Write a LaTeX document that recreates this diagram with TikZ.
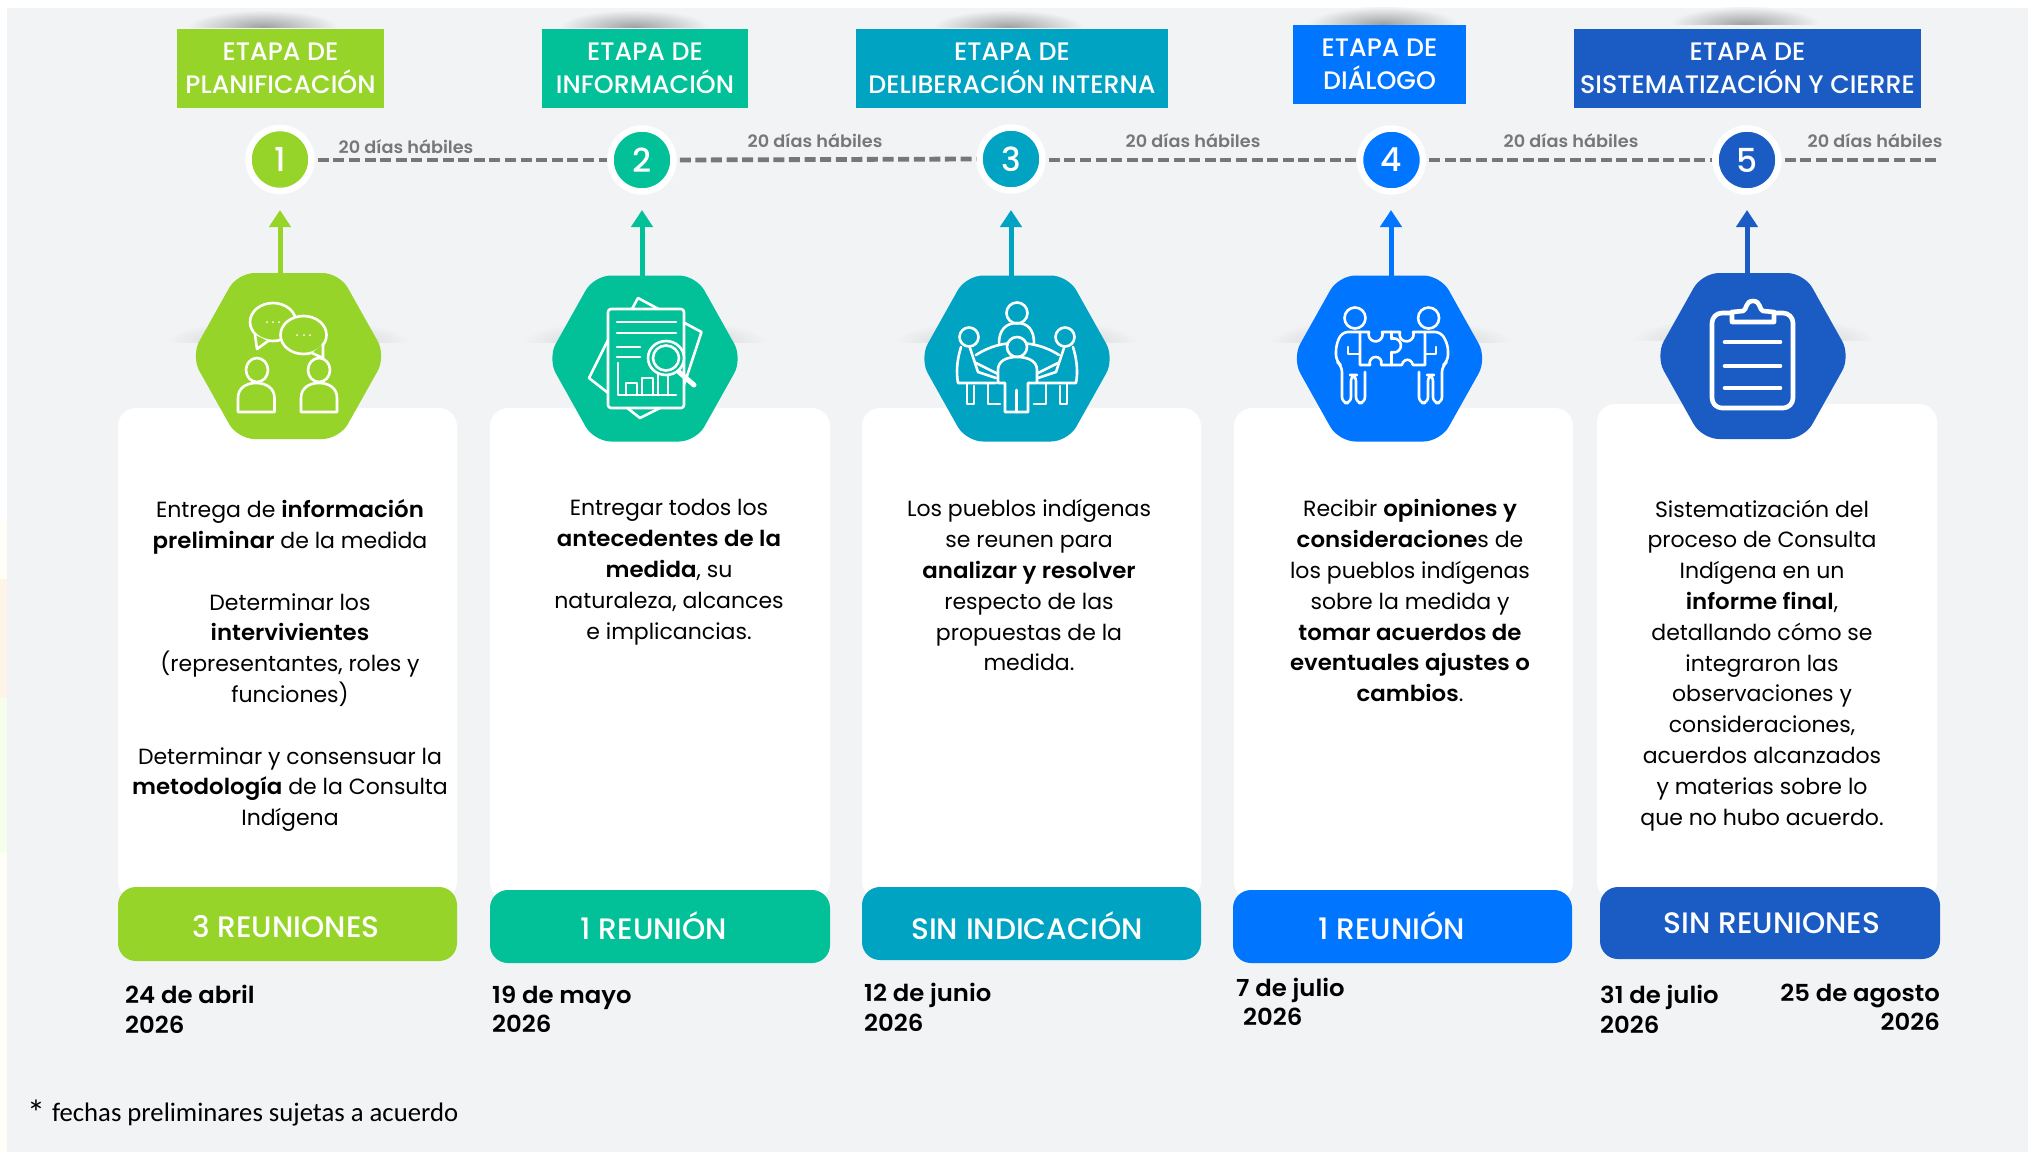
\documentclass[tikz,border=0pt]{standalone}
\usepackage{fontspec}
\setmainfont{Poppins}[BoldFont={Poppins SemiBold},BoldFeatures={FakeStretch=1.04}]
\newfontfamily\pmed{Poppins Medium}
\newfontfamily\footfont{Carlito}
\usetikzlibrary{arrows.meta,calc}
\definecolor{bgc}{HTML}{F1F3F5}
\definecolor{ca}{HTML}{97D42A}
\definecolor{cb}{HTML}{02C097}
\definecolor{cc}{HTML}{01A3C3}
\definecolor{cd}{HTML}{0075FF}
\definecolor{ce}{HTML}{1A5CC4}
\definecolor{dashc}{HTML}{777777}
\tikzset{
  header/.style={fill=#1,text=white,align=center,inner sep=0pt,font=\pmed\fontsize{25.3}{33}\selectfont},
  ring/.style={circle,fill=#1,draw=white,line width=6.5pt,minimum size=63pt,inner sep=0pt,text=white,font=\pmed\fontsize{33}{33}\selectfont},
  daysl/.style={text=dashc,font=\fontsize{17}{20}\selectfont\bfseries,inner sep=0pt},
  dashl/.style={draw=dashc,line width=4.8pt,dash pattern=on 11pt off 4.6pt},
  upar/.style={draw=#1,line width=5pt,-{Triangle[length=17pt,width=21pt]}},
  hexa/.style={fill=#1,rounded corners=17pt},
  card/.style={fill=white,rounded corners=18pt},
  pill/.style={fill=#1,rounded corners=18pt},
  plabel/.style={text=white,inner sep=0pt,font=\pmed\fontsize{29.6}{30}\selectfont},
  body/.style={align=center,anchor=north,inner sep=0pt,text=black,font=\fontsize{22}{30.8}\selectfont},
  datel/.style={align=left,inner sep=0pt,text=black,font=\fontsize{23.4}{29.5}\selectfont\bfseries},
  ic/.style={draw=white,line width=2.6pt,line join=round,line cap=round},
  ict/.style={draw=white,line width=4.6pt,line join=round,line cap=round},
}
\newcommand{\hexshape}[3]{\path[hexa=#1] (#2-97.5,#3) -- (#2-51,#3-83) -- (#2+51,#3-83) -- (#2+97.5,#3) -- (#2+51,#3+83) -- (#2-51,#3+83) -- cycle;}
\newcommand{\topshadow}[2]{\begin{scope}\clip (#1-90,0) rectangle (#1+90,#2);\shade[inner color=black!34!bgc,outer color=bgc] (#1,#2) ellipse (75 and 17);\end{scope}}
\newcommand{\sideshadow}[2]{\begin{scope}\clip (#1-130,#2-40) rectangle (#1+130,#2);\shade[inner color=black!22!bgc,outer color=bgc] (#1,#2) ellipse (122 and 24);\end{scope}}
\begin{document}
\begin{tikzpicture}[x=1pt,y=-1pt]
\useasboundingbox (0,0) rectangle (2028,1152);
\fill[white] (0,0) rectangle (2028,1152);
\fill[bgc] (7,8) rectangle (2028,1152);
% tints on the left edge
\fill[yellow!3!white] (0,519) rectangle (7,579);
\fill[orange!9!white] (0,579) rectangle (7,698);
\fill[green!50!yellow!8!white] (0,698) rectangle (7,852);
\fill[yellow!3!white] (0,852) rectangle (7,1152);
% shadows
\topshadow{263}{27}\topshadow{634}{27}\topshadow{1008}{27}\topshadow{1383}{24}\topshadow{1745}{24}
\sideshadow{288}{342}\sideshadow{645}{342}\sideshadow{1017}{342}\sideshadow{1390}{342}\sideshadow{1753}{340}
% cards
\path[card] (118,408) rectangle (457,900);
\path[card] (490,408) rectangle (830,900);
\path[card] (862,408) rectangle (1201,900);
\path[card] (1234,408) rectangle (1573,900);
\path[card] (1597,404) rectangle (1937,900);
% headers
\node[header=ca,minimum width=207pt,minimum height=79pt] (h1) at (280.5,68) {ETAPA DE\\PLANIFICACIÓN};
\node[header=cb,minimum width=206pt,minimum height=79pt] (h2) at (645,68) {ETAPA DE\\INFORMACIÓN};
\node[header=cc,minimum width=312pt,minimum height=79pt] (h3) at (1012,68) {ETAPA DE\\DELIBERACIÓN INTERNA};
\node[header=cd,minimum width=173pt,minimum height=79pt] (h4) at (1379.5,64.5) {ETAPA DE\\DIÁLOGO};
\node[header=ce,minimum width=347pt,minimum height=79pt] (h5) at (1747.5,68) {ETAPA DE\\SISTEMATIZACIÓN Y CIERRE};
% number circles
\node[ring=ca] (c1) at (280,159.5) {1};
\node[ring=cb] (c2) at (642,160) {2};
\node[ring=cc] (c3) at (1011,159) {3};
\node[ring=cd] (c4) at (1391.5,160) {4};
\node[ring=ce] (c5) at (1747,160) {5};
\coordinate (end) at (1940,160);
% timeline
\draw[dashl] (c1.east) ++(3,0.5) -- (c2.west);
\draw[dashl] (c2.east) ++(3,0) -- (c3.west);
\draw[dashl] (c3.east) ++(3,1) -- (c4.west);
\draw[dashl] (c4.east) ++(3,0) -- (c5.west);
\draw[dashl] (c5.east) ++(3,0) -- (end);
\node[daysl] (d1) at (406,147) {20 días hábiles};
\node[daysl] (d2) at (815,140.5) {20 días hábiles};
\node[daysl] (d3) at (1193,140.5) {20 días hábiles};
\node[daysl] (d4) at (1571,140.5) {20 días hábiles};
\node[daysl] (d5) at (1875,140.5) {20 días hábiles};
% hexagons
\hexshape{ca}{288.5}{356}
\hexshape{cb}{645}{358.5}
\hexshape{cc}{1017}{358.5}
\hexshape{cd}{1389.5}{358.5}
\hexshape{ce}{1753}{356}
% arrows
\coordinate (t1) at (280,210);\coordinate (s1) at (280,274);
\coordinate (t2) at (642,210);\coordinate (s2) at (642,277);
\coordinate (t3) at (1011,210);\coordinate (s3) at (1011,277);
\coordinate (t4) at (1391,210);\coordinate (s4) at (1391,277);
\coordinate (t5) at (1747,210);\coordinate (s5) at (1747,274);
\draw[upar=ca] (s1) -- (t1);
\draw[upar=cb] (s2) -- (t2);
\draw[upar=cc] (s3) -- (t3);
\draw[upar=cd] (s4) -- (t4);
\draw[upar=ce] (s5) -- (t5);
% icon 1
\begin{scope}[ic]
\draw (273,322) ellipse (23 and 19);
\end{scope}
\fill[ca] (303.5,335) ellipse (23 and 19);
\begin{scope}[ic]
\draw (303.5,335) ellipse (23 and 19);
\draw[fill=ca] (255,335) -- (257,349) -- (268,341);
\draw[fill=ca] (312,353) -- (323,358) -- (323,344);
\fill[white] (267,322) circle (1) (273,322) circle (1) (279,322) circle (1);
\fill[white] (297,335) circle (1) (304,335) circle (1) (310,335) circle (1);
\draw (257,370) ellipse (11 and 12);
\draw (319,370) ellipse (11 and 12);
\draw (238,412) -- (238,398) .. controls (238,388) and (246,383) .. (256,383) .. controls (266,383) and (274.5,388) .. (274.5,398) -- (274.5,412) -- cycle;
\draw (301,412) -- (301,398) .. controls (301,388) and (309,383) .. (319,383) .. controls (329,383) and (337,388) .. (337,398) -- (337,412) -- cycle;
\end{scope}
% icon 2
\begin{scope}[ic]
\draw (632,309) -- (638,298) -- (701.5,332) -- (684,385);
\draw (608,340) -- (589,378) -- (640,418) -- (660,408);
\draw[rounded corners=3pt,fill=cb] (608,309) rectangle (684,408);
\draw (617,322) -- (676,322) (617,333) -- (676,333) (617,347) -- (640,347) (617,357) -- (640,357);
\draw (618,363) -- (618,395) -- (676,395);
\draw (626,395) -- (626,383) -- (637,383) -- (637,395) (642,395) -- (642,378) -- (653,378) -- (653,395) (658,395) -- (658,374) -- (668,374) -- (668,395);
\draw[fill=cb] (666,358) ellipse (18 and 17);
\draw (666,358) ellipse (13 and 12.5);
\draw[line width=5pt] (679,372) -- (694,385);
\end{scope}
% icon 3
\begin{scope}[ic]
\draw (1017,313) circle (10.5);
\draw (999,343) .. controls (999,330) and (1006,323) .. (1017,323) .. controls (1028,323) and (1034,330) .. (1034,343);
\draw (976,355) .. controls (990,346) and (1003,343) .. (1017,343) .. controls (1031,343) and (1045,346) .. (1059,355);
\draw (976,363) -- (1002,376) (1058,363) -- (1032,376);
\draw[fill=cc] (1017,347) circle (10);
\draw[fill=cc] (998,383) -- (998,370) .. controls (998,361) and (1006,357) .. (1017,357) .. controls (1028,357) and (1037,361) .. (1037,370) -- (1037,383) -- (1028,383) -- (1028,412) -- (1005,412) -- (1005,383) -- cycle;
\draw (1016.5,412) -- (1016.5,390);
\draw (969,337) circle (9.5);
\draw (1065,337) circle (9.5);
\draw (961,347) .. controls (957,360) and (956,372) .. (958,383) -- (996,383);
\draw (970,348) -- (978,372) -- (996,378);
\draw (1073,347) .. controls (1077,360) and (1078,372) .. (1076,383) -- (1038,383);
\draw (1064,348) -- (1056,372) -- (1038,378);
\draw (967,383) -- (967,404) -- (974,404) -- (974,386) (988,384) -- (988,404) -- (1000,404);
\draw (1067,383) -- (1067,404) -- (1060,404) -- (1060,386) (1046,384) -- (1046,404) -- (1034,404);
\end{scope}
% icon 4
\begin{scope}[ic]
\draw (1355,318) circle (10.5);
\draw (1428.6,318) circle (10.5);
\draw[rounded corners=6pt] (1360,332) -- (1342,332) -- (1336,345) -- (1336,361) -- (1342,366) -- (1342,403) -- (1351,403) -- (1351,375) -- (1356,375) -- (1356,403) -- (1365,403) -- (1365,372);
\draw[rounded corners=6pt] (1425,332) -- (1441,332) -- (1448,345) -- (1448,361) -- (1442,366) -- (1442,403) -- (1433,403) -- (1433,375) -- (1428,375) -- (1428,403) -- (1419,403) -- (1419,372);
\draw (1348,347) -- (1348,354) -- (1360,354) (1436,347) -- (1436,354) -- (1425,354);
\draw (1360,332) -- (1369,332) arc[start angle=200,end angle=-20,radius=7] -- (1400,332) arc[start angle=200,end angle=-20,radius=7] -- (1425,332) -- (1425,365) -- (1413,365) arc[start angle=-20,end angle=-160,x radius=6,y radius=8] -- (1391.5,365);
\draw (1360,332) -- (1360,365) -- (1370,365) arc[start angle=-200,end angle=20,radius=6] -- (1391.5,365) -- (1391.5,352) arc[start angle=110,end angle=-110,radius=7] -- (1391.5,332);
\end{scope}
% icon 5
\begin{scope}[ict]
\draw[rounded corners=10pt] (1732,313) -- (1712,313) -- (1712,408) -- (1793,408) -- (1793,313) -- (1774,313);
\draw[fill=ce] (1732,322) -- (1732,312) -- (1743,311) .. controls (1747,310) and (1745,301) .. (1753,301) .. controls (1761,301) and (1759,310) .. (1763,311) -- (1774,312) -- (1774,322) -- cycle;
\draw (1725,342) -- (1780,342) (1725,366) -- (1780,366) (1725,388) -- (1780,388);
\end{scope}
% body text
\node[body] (b1) at (290,499.5) {Entrega de \textbf{información}\\\textbf{preliminar} de la medida\\[30.8pt]Determinar los\\\textbf{intervivientes}\\(representantes, roles y\\funciones)\\[30.8pt]Determinar y consensuar la\\\textbf{metodología} de la Consulta\\Indígena};
\node[body] (b2) at (669,499.5) {Entregar todos los\\\textbf{antecedentes de la}\\\textbf{medida}, su\\naturaleza, alcances\\e implicancias.};
\node[body] (b3) at (1029,499.5) {Los pueblos indígenas\\se reunen para\\\textbf{analizar y resolver}\\respecto de las\\propuestas de la\\medida.};
\node[body] (b4) at (1410,499.5) {Recibir \textbf{opiniones y}\\\textbf{consideracione}s de\\los pueblos indígenas\\sobre la medida y\\\textbf{tomar acuerdos de}\\\textbf{eventuales ajustes o}\\\textbf{cambios}.};
\node[body] (b5) at (1762,499.5) {Sistematización del\\proceso de Consulta\\Indígena en un\\\textbf{informe final},\\detallando cómo se\\integraron las\\observaciones y\\consideraciones,\\acuerdos alcanzados\\y materias sobre lo\\que no hubo acuerdo.};
% pills
\path[pill=ca] (118,887) rectangle (457,961);
\path[pill=cb] (490,890) rectangle (830,963);
\path[pill=cc] (862,887) rectangle (1201,960);
\path[pill=cd] (1233,890) rectangle (1572,963);
\path[pill=ce] (1600,887) rectangle (1940,959);
\node[plabel] (p1) at (286,927) {3 REUNIONES};
\node[plabel] (p2) at (654,926) {1 REUNIÓN};
\node[plabel] (p3) at (1027,926) {SIN INDICACIÓN};
\node[plabel] (p4) at (1391.5,926) {1 REUNIÓN};
\node[plabel] (p5) at (1772,923) {SIN REUNIONES};
% dates
\node[datel,anchor=west] (e1) at (125,1009.5) {24 de abril\\2026};
\node[datel,anchor=west] (e2) at (492,1009.5) {19 de mayo\\2026};
\node[datel,anchor=west] (e3) at (864,1007.5) {12 de junio\\2026};
\node[datel,anchor=west] (e4) at (1236,1002) {7 de julio\\\hspace{7pt}2026};
\node[datel,anchor=west] (e5) at (1600,1009.5) {31 de julio\\2026};
\node[datel,anchor=east,align=right] (e6) at (1940,1007.5) {25 de agosto\\2026};
% footnote
\node[anchor=west,inner sep=0pt,text=black,font=\footfont\fontsize{26.7}{30}\selectfont] (fn) at (27,1113) {\raisebox{-4pt}{\fontsize{36}{30}\selectfont*}\hspace{7pt}fechas preliminares sujetas a acuerdo};
\end{tikzpicture}
\end{document}
